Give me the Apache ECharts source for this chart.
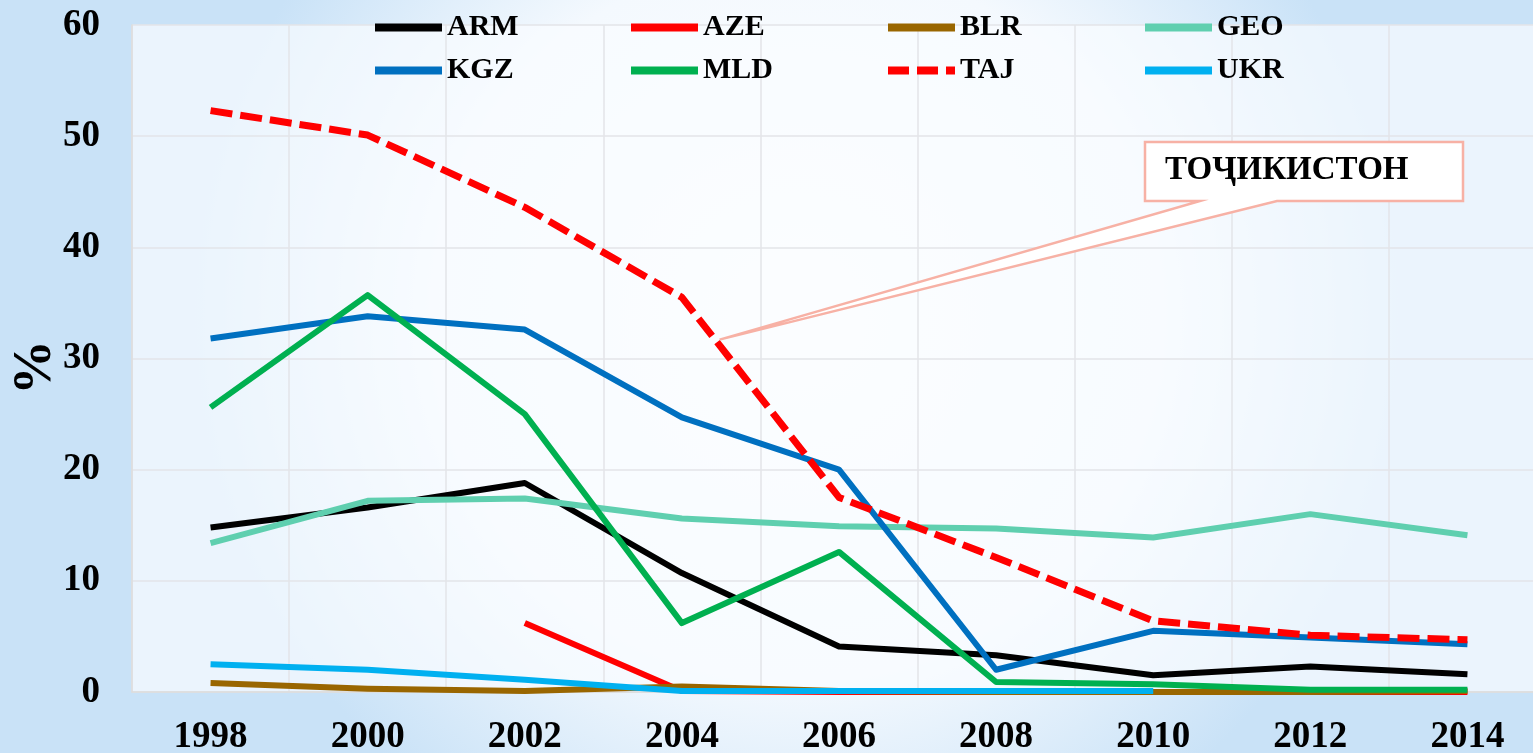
<!DOCTYPE html>
<html>
<head>
<meta charset="utf-8">
<script src="https://cdn.jsdelivr.net/npm/echarts@6/dist/echarts.min.js"></script>
<style>
    html, body {margin: 0; padding: 0;}
    #main {width: 1533px; height: 753px;}
</style>
</head>
<body>
<div id="main"></div>
<script>
let years = ['1998', '2000', '2002', '2004', '2006', '2008', '2010', '2012', '2014'];
let yTicks = [0, 10, 20, 30, 40, 50, 60];

let arm = [14.8, 16.6, 18.8, 10.7, 4.1, 3.3, 1.5, 2.3, 1.6];
let aze = [null, null, 6.2, 0.1, 0, 0, 0, 0, 0];
let blr = [0.8, 0.3, 0.1, 0.5, 0.1, 0, 0, 0, 0.1];
let geo = [13.4, 17.2, 17.4, 15.6, 14.9, 14.7, 13.9, 16.0, 14.1];
let kgz = [31.8, 33.8, 32.6, 24.7, 20.0, 2.0, 5.5, 4.9, 4.3];
let mld = [25.6, 35.7, 25.0, 6.2, 12.6, 0.9, 0.7, 0.2, 0.2];
let taj = [52.3, 50.1, 43.6, 35.5, 17.5, 12.1, 6.4, 5.1, 4.7];
let ukr = [2.5, 2.0, 1.1, 0.1, 0.1, 0.1, 0.1, null, null];

let calloutText = 'ТОҶИКИСТОН';

const FONT = "'Liberation Serif', 'Times New Roman', serif";

let mkLine = (name, data, color, dashed) => ({
    name: name, type: 'line', data: data, symbol: 'none', smooth: false,
    lineStyle: {color: color, width: dashed ? 7 : 6, type: dashed ? [22, 8] : 'solid', cap: 'butt', join: 'round'},
    itemStyle: {color: color},
    emphasis: {disabled: true}
});

// legend icons: plain bar, TAJ gets a dashed one
let solidIcon = 'rect';
let dashIcon = 'path://M0,0h21v8h-21z M29,0h21v8h-21z M58,0h9v8h-9z';

let mkLegend = (left, names) => ({
    orient: 'vertical', left: left, top: 12, padding: 0, itemWidth: 67, itemHeight: 8,
    itemGap: 12, itemTextGap: 7,
    data: names.map(n => ({name: n, icon: n === 'TAJ' ? dashIcon : solidIcon})),
    textStyle: {fontFamily: FONT, fontWeight: 'bold', fontSize: 30, color: '#000', lineHeight: 31}
});

let option = {
    backgroundColor: {
        type: 'radial', x: 0.52, y: 0.42, r: 0.8,
        colorStops: [
            {offset: 0, color: '#ffffff'},
            {offset: 0.6, color: '#f4f9fe'},
            {offset: 1, color: '#c9e2f7'}
        ]
    },
    animation: false,
    legend: [
        mkLegend(375, ['ARM', 'KGZ']),
        mkLegend(631, ['AZE', 'MLD']),
        mkLegend(888, ['BLR', 'TAJ']),
        mkLegend(1145, ['GEO', 'UKR'])
    ],
    grid: {
        left: 132, right: -13, top: 25, bottom: 61, outerBoundsMode: 'none',
        show: true, backgroundColor: 'rgba(249,252,255,0.7)', borderWidth: 0
    },
    xAxis: {
        type: 'category', data: years, boundaryGap: true,
        axisLine: {show: true, lineStyle: {color: '#dcdcdc', width: 1.5}},
        axisTick: {show: false},
        splitLine: {show: true, lineStyle: {color: '#e3e5e8', width: 1.5}},
        axisLabel: {fontFamily: FONT, fontWeight: 'bold', fontSize: 37, color: '#000', margin: 27}
    },
    yAxis: {
        type: 'value', min: yTicks[0], max: yTicks[yTicks.length - 1], interval: 10,
        name: '%', nameLocation: 'middle', nameRotate: 90, nameGap: 69, nameMoveOverlap: false,
        nameTextStyle: {fontFamily: FONT, fontWeight: 'bold', fontSize: 55, color: '#000', padding: [0, 18, 0, 0]},
        axisLine: {show: true, lineStyle: {color: '#dcdcdc', width: 1.5}},
        axisTick: {show: false},
        splitLine: {show: true, lineStyle: {color: '#e3e5e8', width: 1.5}},
        axisLabel: {fontFamily: FONT, fontWeight: 'bold', fontSize: 37, color: '#000', margin: 32}
    },
    series: [
        mkLine('ARM', arm, '#000000'),
        mkLine('AZE', aze, '#ff0000'),
        mkLine('BLR', blr, '#996600'),
        mkLine('GEO', geo, '#5fcfaf'),
        mkLine('KGZ', kgz, '#0070c0'),
        mkLine('MLD', mld, '#00b050'),
        mkLine('TAJ', taj, '#ff0000', true),
        mkLine('UKR', ukr, '#00b0f0')
    ]
};

let chart = echarts.init(document.getElementById('main'));
chart.setOption(option);

// callout tip sits on the TAJ line a bit after 2004
let p1 = chart.convertToPixel({xAxisIndex: 0, yAxisIndex: 0}, ['2004', 31.7]);
let p2 = chart.convertToPixel({xAxisIndex: 0, yAxisIndex: 0}, ['2006', 31.7]);
let tip = [p1[0] + 0.24 * (p2[0] - p1[0]), p1[1]];
let bx = [1145, 1463], by = [142, 201];

chart.setOption({
    graphic: [
        {
            type: 'polygon', z: 100,
            shape: {points: [[bx[0], by[0]], [bx[1], by[0]], [bx[1], by[1]], [1277, by[1]], tip, [1200, by[1]], [bx[0], by[1]]]},
            style: {fill: '#ffffff', stroke: '#f7b1a5', lineWidth: 2.5}
        },
        {
            type: 'text', z: 101, left: 1165, top: 154,
            style: {text: calloutText, font: "bold 33px 'Liberation Serif', serif", fill: '#000'}
        }
    ]
});
</script>
</body>
</html>
